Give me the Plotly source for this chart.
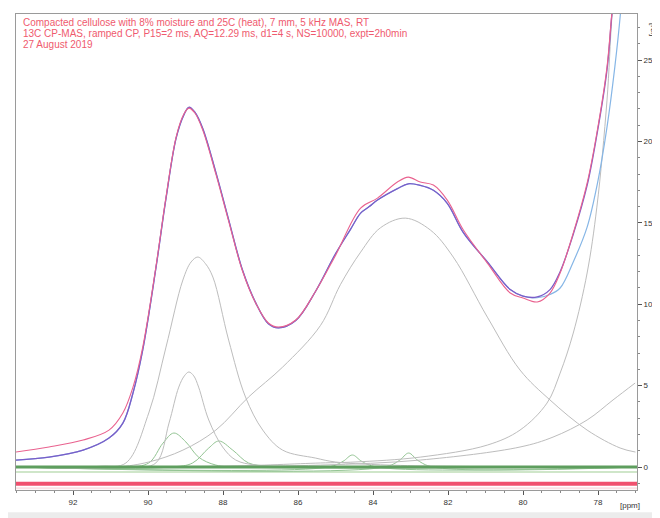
import plotly.graph_objects as go

# ---------------- data ----------------
fit_ppm = [93.52, 92.64, 91.73, 91.04, 90.67, 90.40, 90.14, 89.79, 89.52, 89.25, 89.05, 88.91, 88.75, 88.54,
           88.19, 87.85, 87.48, 87.13, 86.79, 86.52, 86.06, 85.53, 85.00, 84.33, 83.88, 83.35,
           83.06, 82.74, 82.39, 82.02, 81.59, 80.95, 80.34, 80.00, 79.62, 79.28, 79.01, 78.66,
           78.29, 78.03, 77.76, 77.63, 77.45]
fit_val = [0.92, 1.23, 1.66, 2.27, 3.32, 4.91, 7.37, 12.29, 16.58, 20.27, 21.65, 22.05, 21.75, 20.70,
           17.99, 15.11, 12.04, 10.07, 8.85, 8.60, 9.03, 10.80, 13.0, 15.91, 16.52, 17.51,
           17.81, 17.51, 17.32, 16.40, 14.56, 12.53, 10.69, 10.38, 10.14, 10.69, 11.92, 14.37,
           17.44, 20.52, 24.57, 27.9, 32.0]

exp_ppm = [93.52, 92.64, 91.73, 91.04, 90.67, 90.40, 90.14, 89.79, 89.52, 89.25, 89.05, 88.91, 88.75, 88.54,
           88.19, 87.85, 87.48, 87.13, 86.79, 86.52, 86.06, 85.53, 85.00, 84.60, 84.33, 84.10,
           83.88, 83.35, 83.06, 82.74, 82.39, 82.02, 81.59, 80.95, 80.34, 80.00, 79.62, 79.28,
           79.01, 78.66, 78.29, 78.03, 77.76, 77.63, 77.45]
exp_val = [0.43, 0.61, 1.04, 1.78, 2.70, 4.55, 7.2, 12.2, 16.5, 20.2, 21.6, 22.1, 21.8, 20.8,
           18.1, 15.2, 12.1, 10.1, 8.8, 8.55, 9.0, 10.8, 13.1, 14.6, 15.6, 16.0,
           16.4, 17.1, 17.4, 17.3, 17.0, 16.2, 14.4, 12.6, 10.9, 10.5, 10.45, 10.9,
           12.0, 14.3, 17.3, 20.4, 24.4, 27.8, 32.0]

sum_ppm = [93.52, 92.64, 91.73, 91.04, 90.67, 90.40, 90.14, 89.79, 89.52, 89.25, 89.05, 88.91, 88.75, 88.54,
           88.19, 87.85, 87.48, 87.13, 86.79, 86.52, 86.06, 85.53, 85.00, 84.60, 84.33, 84.10,
           83.88, 83.35, 83.06, 82.74, 82.39, 82.02, 81.59, 80.95, 80.34, 80.00, 79.62, 79.28,
           79.01, 78.66, 78.29, 78.00, 77.76, 77.55, 77.40, 77.30]
sum_val = [0.43, 0.61, 1.04, 1.78, 2.70, 4.55, 7.2, 12.2, 16.5, 20.2, 21.6, 22.1, 21.8, 20.8,
           18.1, 15.2, 12.1, 10.1, 8.8, 8.55, 9.0, 10.8, 13.1, 14.6, 15.6, 16.0,
           16.4, 17.1, 17.4, 17.3, 17.0, 16.2, 14.4, 12.6, 10.9, 10.5, 10.4, 10.6,
           11.0, 12.6, 14.74, 17.6, 20.88, 24.6, 27.9, 31.0]

# deconvolution components
compA_ppm = [93.5, 91.25, 90.59, 89.98, 89.52, 89.07, 88.85, 88.67, 88.47, 88.27, 87.85, 87.40, 86.94, 86.41, 85.53, 85.00, 83.27, 77.0]
compA_val = [0.0, 0.05, 0.25, 3.32, 7.37, 11.49, 12.6, 12.90, 12.5, 11.67, 7.80, 4.30, 2.27, 1.04, 0.55, 0.31, 0.1, 0.0]

compB_ppm = [93.5, 90.5, 89.79, 89.44, 89.18, 89.03, 88.91, 88.78, 88.65, 88.38, 88.01, 87.66, 87.13, 86.0, 77.0]
compB_val = [0.0, 0.0, 0.25, 2.70, 4.91, 5.6, 5.84, 5.6, 4.91, 2.89, 1.23, 0.43, 0.12, 0.0, 0.0]

compC_ppm = [93.5, 90.6, 89.98, 89.60, 89.31, 88.99, 88.65, 88.19, 87.5, 77.0]
compC_val = [0.0, 0.0, 0.25, 1.47, 2.09, 1.54, 0.61, 0.12, 0.0, 0.0]

compD_ppm = [93.5, 89.4, 88.81, 88.38, 88.11, 87.74, 87.32, 86.79, 86.0, 77.0]
compD_val = [0.0, 0.0, 0.25, 1.17, 1.60, 1.04, 0.25, 0.06, 0.0, 0.0]

compE_ppm = [93.5, 90.86, 89.98, 89.07, 88.19, 87.32, 86.41, 85.40, 84.87, 84.33, 83.80, 83.14,
             82.47, 81.86, 80.95, 80.08, 79.28, 78.29, 77.41, 77.0]
compE_val = [0.0, 0.0, 0.31, 1.04, 2.27, 4.30, 6.14, 8.7, 11.2, 13.2, 14.7, 15.29,
             14.56, 12.90, 9.21, 5.96, 4.12, 2.27, 1.17, 0.92]

compF_ppm = [93.5, 88.0, 85.40, 84.48, 82.74, 80.95, 80.08, 79.36, 79.01, 78.66, 78.29, 78.03, 77.76, 77.63, 77.5]
compF_val = [0.0, 0.05, 0.25, 0.31, 0.61, 1.35, 2.27, 3.93, 5.77, 8.23, 11.92, 15.97, 22.54, 27.64, 31.0]

compG_ppm = [93.5, 88.0, 85.40, 82.74, 80.08, 79.20, 78.29, 77.60, 77.01]
compG_val = [0.0, 0.05, 0.12, 0.43, 1.23, 1.84, 2.89, 4.12, 5.16]

compH_ppm = [93.5, 85.2, 84.80, 84.55, 84.30, 83.9, 77.0]
compH_val = [0.0, 0.0, 0.35, 0.74, 0.35, 0.0, 0.0]

compI_ppm = [93.5, 83.7, 83.30, 83.05, 82.80, 82.4, 77.0]
compI_val = [0.0, 0.0, 0.40, 0.86, 0.40, 0.0, 0.0]

baseline_ppm = [93.52, 76.96]
baseline_val = [0.0, 0.0]
residual_val = [-1.02, -1.02]

x_tick_vals = [92, 90, 88, 86, 84, 82, 80, 78]
y_tick_vals = [0, 5, 10, 15, 20, 25]

header_lines = [
    "Compacted cellulose with 8% moisture and 25C (heat), 7 mm, 5 kHz MAS, RT",
    "13C CP-MAS, ramped CP, P15=2 ms, AQ=12.29 ms, d1=4 s, NS=10000, expt=2h0min",
    "27 August 2019",
]

# ---------------- figure ----------------
fig = go.Figure()

GRAY = "#bdbdbd"
GREEN = "#93c493"
FONT = "Liberation Sans, Arial"

def comp(xs, ys, color, width=1.0):
    fig.add_trace(go.Scatter(x=xs, y=ys, mode="lines",
                             line=dict(color=color, width=width, shape="spline", smoothing=1.0),
                             hoverinfo="skip", showlegend=False))

# baselines halos
fig.add_trace(go.Scatter(x=baseline_ppm, y=[v - 0.3 for v in baseline_val], mode="lines",
                         line=dict(color="#cfe6c9", width=2), showlegend=False, hoverinfo="skip"))
fig.add_trace(go.Scatter(x=baseline_ppm, y=[v - 1.3 for v in baseline_val], mode="lines",
                         line=dict(color="#fbe0e4", width=2), showlegend=False, hoverinfo="skip"))

comp(compH_ppm, compH_val, GREEN)
comp(compI_ppm, compI_val, GREEN)
comp(compC_ppm, compC_val, GREEN)
comp(compD_ppm, compD_val, GREEN)
comp(compG_ppm, compG_val, GRAY)
comp(compF_ppm, compF_val, GRAY)
comp(compE_ppm, compE_val, GRAY)
comp(compA_ppm, compA_val, GRAY)
comp(compB_ppm, compB_val, GRAY)

fig.add_trace(go.Scatter(x=baseline_ppm, y=baseline_val, mode="lines",
                         line=dict(color="#5e9e5e", width=3), showlegend=False, hoverinfo="skip"))
fig.add_trace(go.Scatter(x=baseline_ppm, y=residual_val, mode="lines",
                         line=dict(color="#f0506e", width=4), showlegend=False, hoverinfo="skip"))

fig.add_trace(go.Scatter(x=sum_ppm, y=sum_val, mode="lines",
                         line=dict(color="#86b6e6", width=1.2, shape="spline", smoothing=1.0),
                         showlegend=False, hoverinfo="skip"))
fig.add_trace(go.Scatter(x=exp_ppm, y=exp_val, mode="lines",
                         line=dict(color="#7a5cc8", width=1.3, shape="spline", smoothing=1.0),
                         showlegend=False, hoverinfo="skip"))
fig.add_trace(go.Scatter(x=fit_ppm, y=fit_val, mode="lines",
                         line=dict(color="#e9628f", width=1.1, shape="spline", smoothing=1.0),
                         showlegend=False, hoverinfo="skip"))

annotations = []
for i, t in enumerate(header_lines):
    annotations.append(dict(text=t, xref="paper", yref="paper", x=0.008, y=0.998 - i * 0.0231,
                            xanchor="left", yanchor="top", showarrow=False,
                            font=dict(family=FONT, size=10, color="#ef5a6e")))
annotations.append(dict(text="[ppm]", xref="paper", yref="paper", x=0.989, y=-0.018, xanchor="center",
                        yanchor="top", showarrow=False, font=dict(family=FONT, size=8, color="#333")))
annotations.append(dict(text="[rel]", xref="paper", yref="paper", x=1.0, y=1.0, xanchor="left",
                        yanchor="top", xshift=10, yshift=-7, showarrow=False, textangle=90,
                        font=dict(family=FONT, size=8, color="#333")))

fig.update_layout(
    width=660, height=518,
    margin=dict(l=8, r=31, t=6, b=36),
    paper_bgcolor="white", plot_bgcolor="white",
    showlegend=False,
    annotations=annotations,
    shapes=[dict(type="rect", xref="paper", yref="paper", x0=-0.02, x1=1.06, y0=-0.075, y1=-0.047,
                 fillcolor="#ececec", line=dict(width=0), layer="below")],
    xaxis=dict(range=[93.52, 76.96], tickvals=x_tick_vals, ticktext=[str(v) for v in x_tick_vals],
               ticks="outside", ticklen=4, tickcolor="#555", showgrid=False, zeroline=False,
               showline=True, linecolor="#9a9a9a", linewidth=1, mirror=True,
               tickfont=dict(family=FONT, size=8, color="#333"),
               minor=dict(dtick=0.5, ticks="outside", ticklen=2, tickcolor="#888", tick0=76)),
    yaxis=dict(range=[-1.41, 27.83], side="right", tickvals=y_tick_vals,
               ticks="outside", ticklen=4, tickcolor="#555", showgrid=False, zeroline=False,
               showline=True, linecolor="#9a9a9a", linewidth=1, mirror=True,
               tickfont=dict(family=FONT, size=8, color="#333"),
               minor=dict(dtick=1, ticks="outside", ticklen=2, tickcolor="#888", tick0=0)),
)

fig.write_html("out.html")
